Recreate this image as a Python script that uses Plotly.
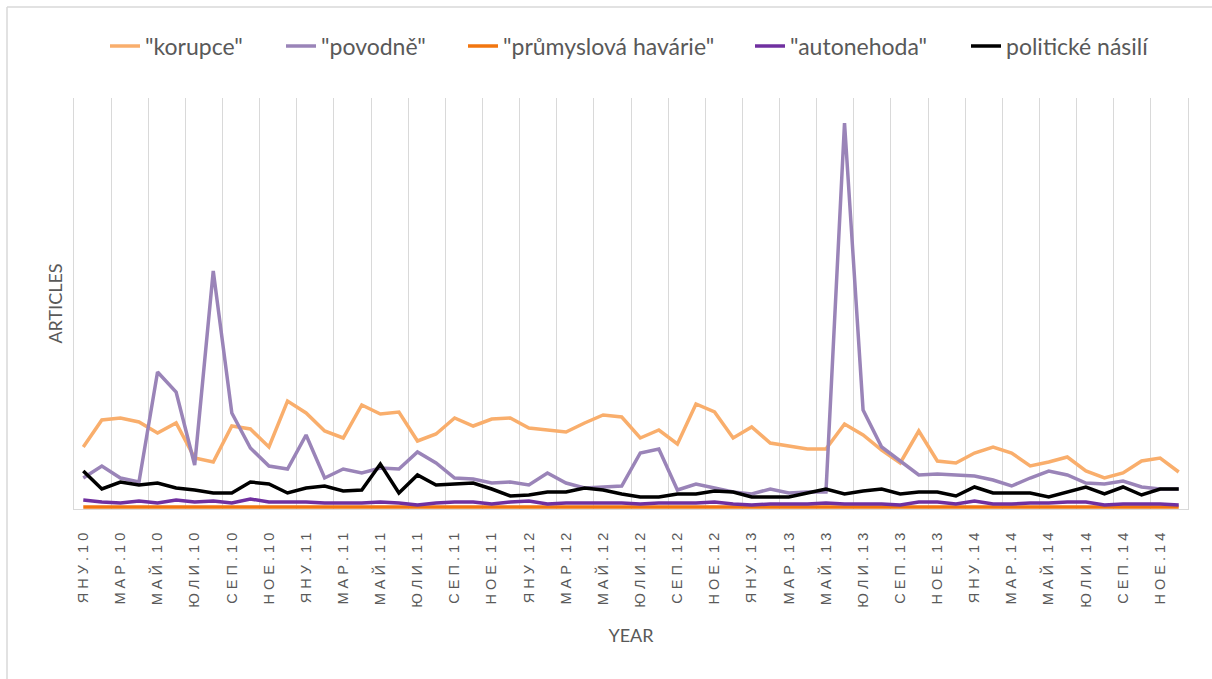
import plotly.graph_objects as go

months = ["ЯНУ", "ФЕВ", "МАР", "АПР", "МАЙ", "ЮНИ", "ЮЛИ", "АВГ", "СЕП", "ОКТ", "НОЕ", "ДЕК"]
years = ["10", "11", "12", "13", "14"]
categories = [f"{m}.{y}" for y in years for m in months]

korupce = [60, 87, 89, 85, 74, 84, 49, 45, 81, 78, 60, 106, 94, 76, 69, 102, 93, 95, 66, 73,
           89, 81, 88, 89, 79, 77, 75, 84, 92, 90, 69, 77, 63, 103, 95, 69, 80, 64, 61, 58,
           58, 83, 72, 57, 44, 76, 46, 44, 54, 60, 54, 41, 45, 50, 36, 29, 34, 46, 49, 35]
povodne = [29, 41, 29, 25, 135, 115, 42, 236, 94, 59, 41, 38, 72, 29, 38, 34, 39, 38, 55, 44,
           29, 28, 24, 25, 22, 34, 24, 19, 20, 21, 54, 58, 17, 23, 19, 15, 13, 18, 14, 15,
           15, 384, 97, 60, 46, 32, 33, 32, 31, 27, 21, 29, 36, 32, 24, 23, 26, 20, 18, 18]
havarie = [0, 0, 0, 0, 0, 0, 0, 0, 0, 0, 0, 0, 0, 0, 0, 0, 0, 0, 0, 0,
           0, 0, 0, 0, 0, 0, 0, 0, 0, 0, 0, 0, 0, 0, 0, 0, 0, 0, 0, 0,
           0, 0, 0, 0, 0, 0, 0, 0, 0, 0, 0, 0, 0, 0, 0, 0, 0, 0, 0, 0]
autonehoda = [7, 5, 4, 6, 4, 7, 5, 6, 4, 8, 5, 5, 5, 4, 4, 4, 5, 4, 2, 4,
              5, 5, 3, 5, 6, 3, 4, 4, 4, 4, 3, 4, 4, 4, 5, 3, 2, 3, 3, 3,
              4, 3, 3, 3, 2, 5, 5, 3, 6, 3, 3, 4, 4, 5, 5, 2, 3, 3, 3, 2]
nasili = [36, 18, 25, 22, 24, 19, 17, 14, 14, 25, 23, 14, 19, 21, 16, 17, 43, 14, 32, 22,
          23, 24, 18, 11, 12, 15, 15, 19, 17, 13, 10, 10, 13, 13, 16, 15, 10, 10, 10, 14,
          18, 13, 16, 18, 13, 15, 15, 11, 20, 14, 14, 14, 10, 15, 20, 13, 20, 12, 18, 18]

series_names = ['"korupce"', '"povodně"', '"průmyslová havárie"', '"autonehoda"', "politické násilí"]
series_values = [korupce, povodne, havarie, autonehoda, nasili]
series_colors = ["#F9AE6C", "#9A84B8", "#F2760F", "#7030A0", "#000000"]

x_idx = list(range(len(categories)))
tick_idx = x_idx[::2]
tick_text = [" ".join(list(categories[i])) for i in tick_idx]
grid_pos = [i - 0.5 for i in tick_idx]

# plot area in pixels
L, R, T, B = 74, 24, 98, 170
PW = 1212 - L - R
PH = 679 - T - B


def px_x(a):
    return (a - L) / PW


def px_y(a):
    return (679 - B - a) / PH


legend_text_starts = [145, 321, 503, 790, 1006]
grey = "#595959"

fig = go.Figure()
layout_legends = {}
for k, (name, vals, color) in enumerate(zip(series_names, series_values, series_colors)):
    lg = "legend" if k == 0 else f"legend{k + 1}"
    fig.add_trace(go.Scatter(x=x_idx, y=vals, name=name, mode="lines", legend=lg,
                             line=dict(color=color, width=3.5)))
    layout_legends[lg] = dict(
        orientation="h", x=px_x(legend_text_starts[k] - 40), xanchor="left",
        y=px_y(46), yanchor="middle",
        font=dict(family="Lato", size=23, color=grey), bgcolor="rgba(0,0,0,0)")

fig.update_layout(
    width=1212, height=679,
    margin=dict(l=L, r=R, t=T, b=B),
    paper_bgcolor="white", plot_bgcolor="white",
    font=dict(family="Lato", color=grey),
    showlegend=True,
    **layout_legends,
    xaxis=dict(range=[-0.5, len(categories) - 0.5], tickmode="array", tickvals=tick_idx,
               ticktext=tick_text, tickangle=-90, ticks="",
               tickfont=dict(family="Liberation Sans", size=14.5, color=grey),
               showgrid=False, zeroline=False,
               minor=dict(tickmode="array", tickvals=grid_pos, showgrid=True,
                          gridcolor="#D9D9D9", gridwidth=1, ticks=""),
               showline=True, linecolor="#D9D9D9", linewidth=1,
               ticklabelstandoff=17,
               title=dict(text="YEAR", font=dict(family="Lato", size=18, color=grey), standoff=22)),
    yaxis=dict(range=[-2, 409], showticklabels=False, showgrid=False, zeroline=False,
               showline=True, mirror=True, linecolor="#D9D9D9", linewidth=1, ticks="",
               title=dict(text="ARTICLES", font=dict(family="Lato", size=18, color=grey), standoff=5)),
    shapes=[
        dict(type="line", xref="paper", yref="paper", x0=px_x(7), x1=px_x(7), y0=px_y(690), y1=px_y(7),
             line=dict(color="#D9D9D9", width=1.5)),
        dict(type="line", xref="paper", yref="paper", x0=px_x(7), x1=px_x(1220), y0=px_y(7), y1=px_y(7),
             line=dict(color="#D9D9D9", width=1.5)),
    ],
)

fig.write_html("out.html")
